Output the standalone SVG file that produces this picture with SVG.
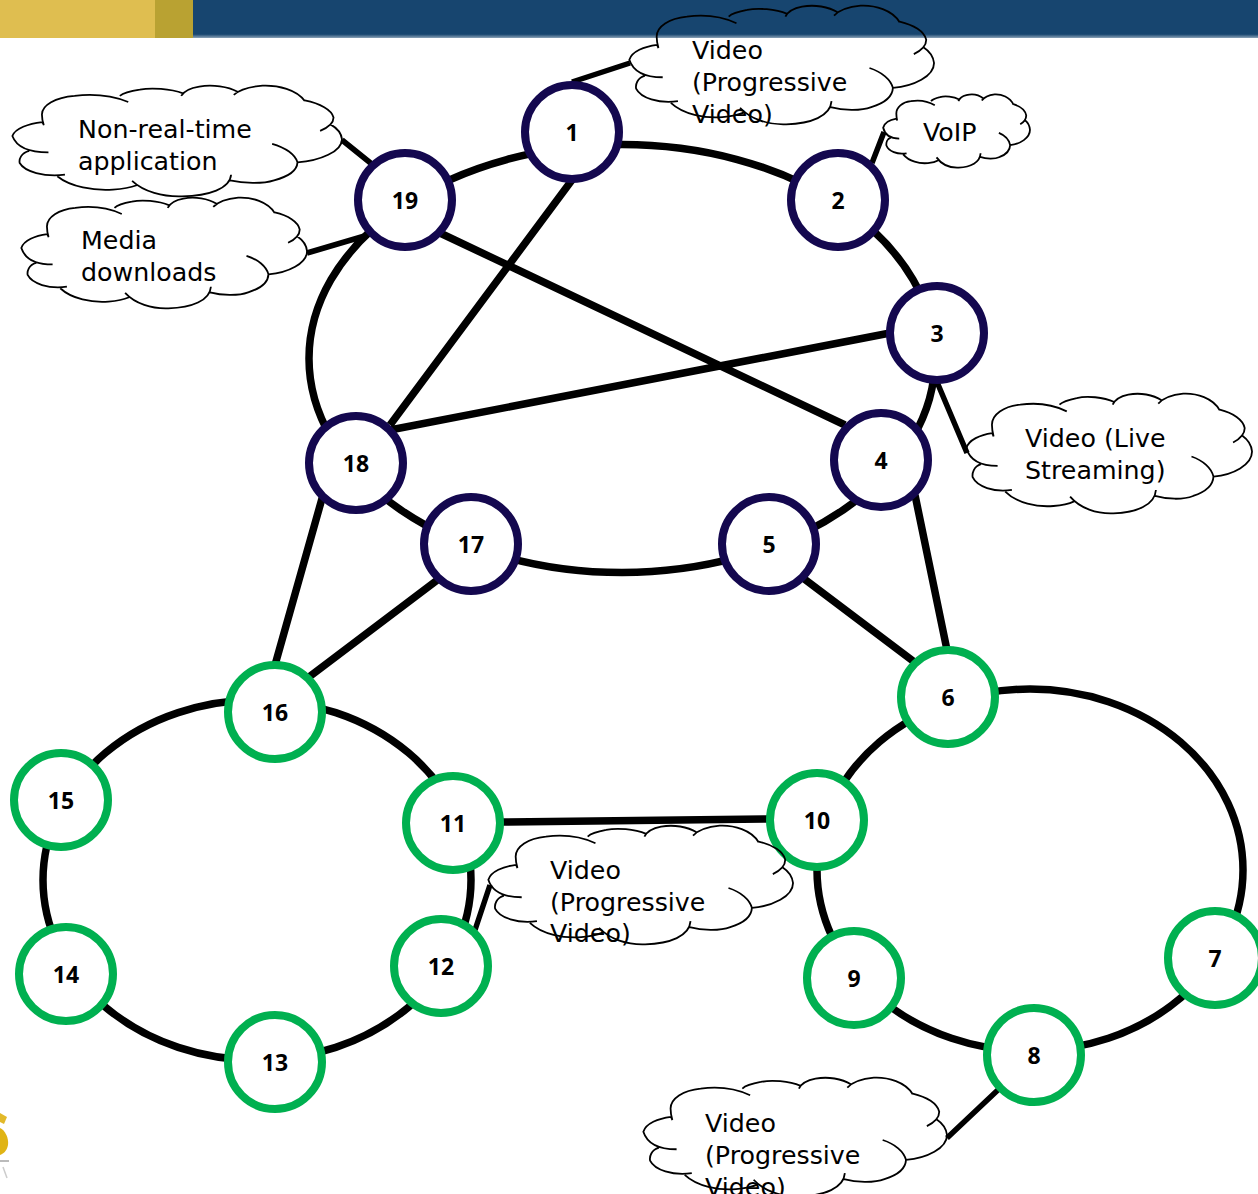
<svg xmlns="http://www.w3.org/2000/svg" width="1258" height="1194" viewBox="0 0 1258 1194">
<style>
.ring{fill:none;stroke:#000;stroke-width:7.5}
.link{fill:none;stroke:#000;stroke-width:7.5}
.tail{fill:none;stroke:#000;stroke-width:5.5}
.n{fill:#fff;stroke-width:8}
.navy{stroke:#14084f}
.green{stroke:#00b050}
.num{font:bold 23px "Noto Sans",sans-serif;text-anchor:middle;fill:#000}
.lbl{font:25.3px "DejaVu Sans",sans-serif;fill:#000}
.cl{fill:none;stroke:#000;stroke-width:1.8;vector-effect:non-scaling-stroke}
</style>
<defs>
<path id="cloud" class="cl" transform="translate(-137,-70)" d="M220,200C218,195 217,192 216,190C180,195 145,210 138,235C150,275 190,288 232,288M182,283C160,290 155,310 157,322C170,350 220,368 275,360M255,365C290,400 350,412 400,408C425,406 445,402 462,394M450,380C480,415 530,432 580,430C650,428 705,405 708,360M705,378C740,388 790,390 820,378C860,365 880,345 881,320C875,295 850,272 815,260M881,320C940,315 997,285 997,245C995,225 985,210 968,198M940,218C960,208 975,195 975,175C970,150 940,130 900,120M900,122C880,85 830,70 790,72C760,75 730,85 715,102M725,92C700,75 660,68 625,75C600,80 585,90 578,105M583,97C550,82 500,78 470,85C445,90 425,98 418,105M440,125C400,105 350,98 300,105C250,110 215,135 215,165C215,175 216,185 220,200"/>
<linearGradient id="hb" x1="0" y1="0" x2="0" y2="1"><stop offset="0.9" stop-color="#17456f"/><stop offset="1" stop-color="#17456f" stop-opacity="0.5"/></linearGradient>
</defs>
<rect width="1258" height="1194" fill="#fff"/>
<g id="header">
<rect x="0" y="0" width="155" height="38" fill="#dfbe50"/>
<rect x="155" y="0" width="38" height="38" fill="#b9a232"/>
<rect x="193" y="0" width="1065" height="38" fill="url(#hb)"/>
</g>
<g id="logo-fragment">
<path d="M0,1113L7,1117L4,1124L0,1122Z" fill="#e2b92a"/>
<path d="M0,1128C5,1130 9,1138 8,1145C7,1151 3,1154 0,1155Z" fill="#e0b415"/>
<rect x="0" y="1160" width="9" height="2" fill="#bbb"/>
<path d="M3,1167L7,1178" stroke="#ccc" stroke-width="1.5" fill="none"/>
</g>
<g id="connectors">
<ellipse class="ring" cx="622" cy="358.5" rx="313" ry="214"/>
<ellipse class="ring" cx="257" cy="880" rx="214" ry="180"/>
<ellipse class="ring" cx="1030" cy="870" rx="213" ry="181"/>
<path class="link" d="M572,180L390,425M440,233L845,425M390,430L890,333M323,495L275,665M440,578L305,680M803,578L917,664M915,495L947,650M500,822L770,819"/>
<path class="tail" d="M572,82L630,63M872,163L884,132M937,382L967,453M342,140L373,165M307,253L368,235M475,930L490,885M1000,1088L947,1138"/>
</g>
<g id="node1"><circle class="n navy" cx="572" cy="132" r="47"/><text class="num" x="572" y="141">1</text></g>
<g id="node2"><circle class="n navy" cx="838" cy="200" r="47"/><text class="num" x="838" y="209">2</text></g>
<g id="node3"><circle class="n navy" cx="937" cy="333" r="47"/><text class="num" x="937" y="342">3</text></g>
<g id="node4"><circle class="n navy" cx="881" cy="460" r="47"/><text class="num" x="881" y="469">4</text></g>
<g id="node5"><circle class="n navy" cx="769" cy="544" r="47"/><text class="num" x="769" y="553">5</text></g>
<g id="node6"><circle class="n green" cx="948" cy="697" r="47"/><text class="num" x="948" y="706">6</text></g>
<g id="node7"><circle class="n green" cx="1215" cy="958" r="47"/><text class="num" x="1215" y="967">7</text></g>
<g id="node8"><circle class="n green" cx="1034" cy="1055" r="47"/><text class="num" x="1034" y="1064">8</text></g>
<g id="node9"><circle class="n green" cx="854" cy="978" r="47"/><text class="num" x="854" y="987">9</text></g>
<g id="node10"><circle class="n green" cx="817" cy="820" r="47"/><text class="num" x="817" y="829">10</text></g>
<g id="node11"><circle class="n green" cx="453" cy="823" r="47"/><text class="num" x="453" y="832">11</text></g>
<g id="node12"><circle class="n green" cx="441" cy="966" r="47"/><text class="num" x="441" y="975">12</text></g>
<g id="node13"><circle class="n green" cx="275" cy="1062" r="47"/><text class="num" x="275" y="1071">13</text></g>
<g id="node14"><circle class="n green" cx="66" cy="974" r="47"/><text class="num" x="66" y="983">14</text></g>
<g id="node15"><circle class="n green" cx="61" cy="800" r="47"/><text class="num" x="61" y="809">15</text></g>
<g id="node16"><circle class="n green" cx="275" cy="712" r="47"/><text class="num" x="275" y="721">16</text></g>
<g id="node17"><circle class="n navy" cx="471" cy="544" r="47"/><text class="num" x="471" y="553">17</text></g>
<g id="node18"><circle class="n navy" cx="356" cy="463" r="47"/><text class="num" x="356" y="472">18</text></g>
<g id="node19"><circle class="n navy" cx="405" cy="200" r="47"/><text class="num" x="405" y="209">19</text></g>
<g id="cloud-video-top"><use href="#cloud" transform="translate(629,5) scale(0.3547,0.3315)"/><text class="lbl" x="692" y="59">Video</text><text class="lbl" x="692" y="91">(Progressive</text><text class="lbl" x="692" y="123">Video)</text></g>
<g id="cloud-voip"><use href="#cloud" transform="translate(883,94) scale(0.1709,0.2044)"/><text class="lbl" x="923" y="141">VoIP</text></g>
<g id="cloud-nonreal"><use href="#cloud" transform="translate(12,85) scale(0.3837,0.3094)"/><text class="lbl" x="78" y="138">Non-real-time</text><text class="lbl" x="78" y="170">application</text></g>
<g id="cloud-media"><use href="#cloud" transform="translate(21,197) scale(0.3326,0.3094)"/><text class="lbl" x="81" y="249">Media</text><text class="lbl" x="81" y="281">downloads</text></g>
<g id="cloud-live"><use href="#cloud" transform="translate(966,393) scale(0.3326,0.3343)"/><text class="lbl" x="1025" y="447">Video (Live</text><text class="lbl" x="1025" y="479">Streaming)</text></g>
<g id="cloud-video-mid"><use href="#cloud" transform="translate(488,825) scale(0.3547,0.3315)"/><text class="lbl" x="550" y="879">Video</text><text class="lbl" x="550" y="911">(Progressive</text><text class="lbl" x="550" y="942">Video)</text></g>
<g id="cloud-video-bottom"><use href="#cloud" transform="translate(643,1077) scale(0.3535,0.3315)"/><text class="lbl" x="705" y="1132">Video</text><text class="lbl" x="705" y="1164">(Progressive</text><text class="lbl" x="705" y="1196">Video)</text></g>
</svg>
